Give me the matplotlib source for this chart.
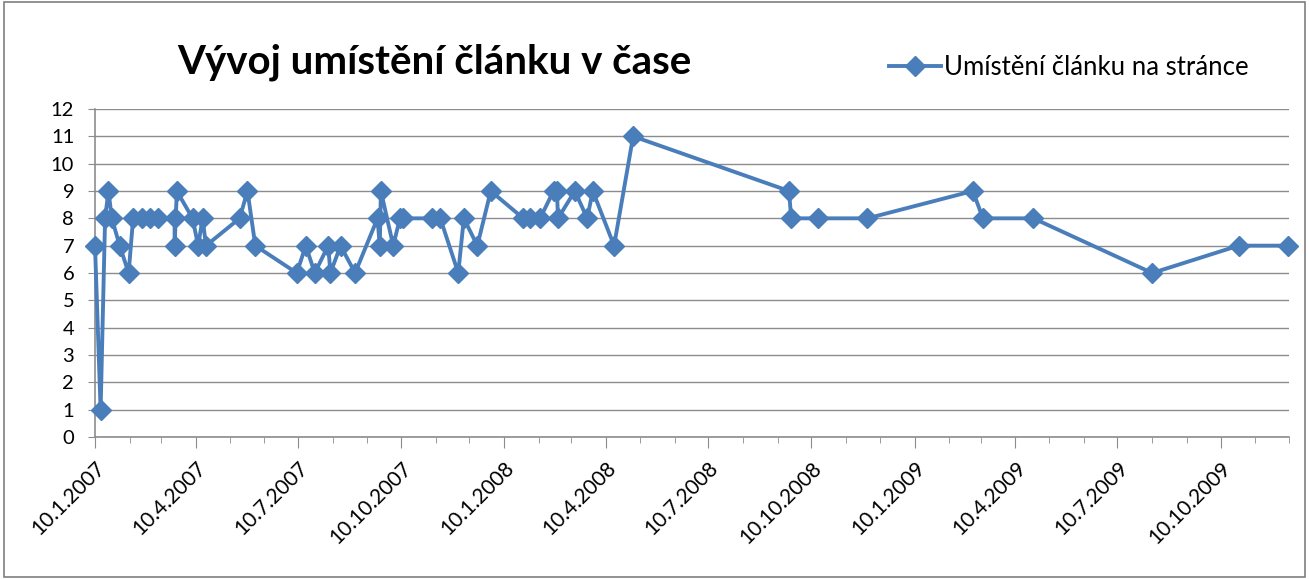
import numpy as np
import matplotlib
matplotlib.use("Agg")
import matplotlib.pyplot as plt
import matplotlib.dates as mdates
from matplotlib.patches import Rectangle
from datetime import date

# data
dates = [
    "2007-01-10", "2007-01-15", "2007-01-19", "2007-01-22", "2007-01-25",
    "2007-02-01", "2007-02-09", "2007-02-13", "2007-02-21", "2007-02-28",
    "2007-03-07", "2007-03-22", "2007-03-22", "2007-03-24", "2007-04-07",
    "2007-04-12", "2007-04-16", "2007-04-19", "2007-05-19", "2007-05-26",
    "2007-06-02", "2007-07-09", "2007-07-17", "2007-07-25", "2007-08-06",
    "2007-08-08", "2007-08-17", "2007-08-30", "2007-09-19", "2007-09-21",
    "2007-09-22", "2007-10-03", "2007-10-09", "2007-10-12", "2007-11-07",
    "2007-11-14", "2007-11-30", "2007-12-05", "2007-12-17", "2007-12-29",
    "2008-01-27", "2008-02-02", "2008-02-11", "2008-02-23", "2008-02-26",
    "2008-02-27", "2008-03-13", "2008-03-24", "2008-03-29", "2008-04-17",
    "2008-05-04", "2008-09-20", "2008-09-22", "2008-10-16", "2008-11-29",
    "2009-03-03", "2009-03-12", "2009-04-26", "2009-08-10", "2009-10-26",
    "2009-12-09",
]
positions = [
    7, 1, 8, 9, 8,
    7, 6, 8, 8, 8,
    8, 8, 7, 9, 8,
    7, 8, 7, 8, 9,
    7, 6, 7, 6, 7,
    6, 7, 6, 8, 7,
    9, 7, 8, 8, 8,
    8, 6, 8, 7, 9,
    8, 8, 8, 9, 9,
    8, 9, 8, 9, 7,
    11, 9, 8, 8, 8,
    9, 8, 8, 6, 7,
    7,
]
series_name = "Umístění článku na stránce"
title = "Vývoj umístění článku v čase"
major_ticks = [
    "2007-01-10", "2007-04-10", "2007-07-10", "2007-10-10",
    "2008-01-10", "2008-04-10", "2008-07-10", "2008-10-10",
    "2009-01-10", "2009-04-10", "2009-07-10", "2009-10-10",
]
x_start, x_end = "2007-01-10", "2009-12-10"

plt.rcParams['font.family'] = ['Lato', 'DejaVu Sans']

blue = '#4A7EBB'
gray = '#8c8c8c'

x = [date.fromisoformat(d) for d in dates]

fig = plt.figure(figsize=(13.09, 5.79), dpi=100)
fig.patches.append(Rectangle((0.003, 0.003), 0.994, 0.994, transform=fig.transFigure,
                             fill=False, edgecolor='#7f7f7f', lw=1.2))

W, H = 1309, 579
ax = fig.add_axes([95 / W, 1 - 437 / H, (1289 - 95) / W, (437 - 109) / H])

ax.plot(x, positions, color=blue, lw=2.8, marker='D', markersize=10.5,
        markeredgecolor=blue, label=series_name, clip_on=False, zorder=3)

ax.set_xlim(date.fromisoformat(x_start), date.fromisoformat(x_end))
ax.set_ylim(0, 12)
ax.set_yticks(range(0, 13))
ax.yaxis.grid(True, color=gray, lw=1)
ax.set_axisbelow(True)

maj = [date.fromisoformat(d) for d in major_ticks]
ax.set_xticks(maj)
ax.set_xticklabels([f"{d.day}.{d.month}.{d.year}" for d in maj], rotation=45,
                   ha='right', va='top', rotation_mode='anchor', fontsize=15)
ax.xaxis.set_minor_locator(mdates.MonthLocator(bymonthday=10))
ax.tick_params(axis='x', which='major', length=8, color=gray, pad=7)
ax.tick_params(axis='x', which='minor', length=4, color=gray)
ax.tick_params(axis='y', length=5, color=gray, labelsize=14.5, pad=10)

for s in ['top', 'right']:
    ax.spines[s].set_visible(False)
for s in ['left', 'bottom']:
    ax.spines[s].set_color(gray)
    ax.spines[s].set_linewidth(1.2)

fig.text(434 / W, 1 - 62 / H, title, fontsize=29, fontweight='bold',
         ha='center', va='center')
fig.legend(loc='center left', bbox_to_anchor=(866 / W, 1 - 67 / H), frameon=False,
           fontsize=18.5, handlelength=2.0, handletextpad=0.15)

fig.savefig("out.png", dpi=100)
